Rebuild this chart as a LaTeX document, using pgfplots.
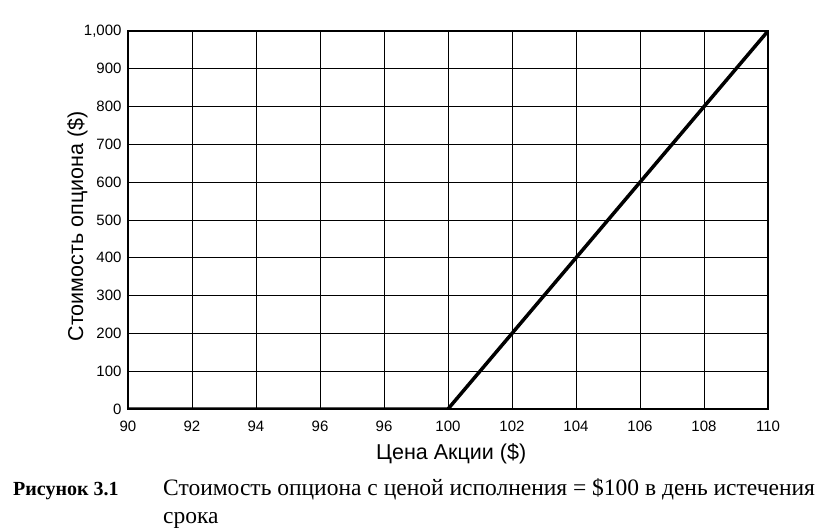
\documentclass[border=0pt]{standalone}
\usepackage{fontspec}
\setmainfont{Liberation Serif}
\newfontfamily\chartfont{Liberation Sans}
\usepackage{pgfplots}
\pgfplotsset{compat=1.18}

\begin{document}
\begin{tikzpicture}
\path[use as bounding box] (-128pt,-121pt) rectangle (698pt,409pt);
\begin{axis}[
    at={(0,0)}, anchor=south west,
    scale only axis,
    width=640pt, height=378pt,
    xmin=90, xmax=110, ymin=0, ymax=1000,
    xtick={90,92,...,110},
    xticklabels={90,92,94,96,96,100,102,104,106,108,110},
    ytick={0,100,...,1000},
    yticklabels={0,100,200,300,400,500,600,700,800,900,{1,000}},
    grid=major,
    major grid style={black, line width=0.8pt},
    axis line style={black, line width=1.6pt},
    tick style={draw=none},
    ticklabel style={font=\chartfont\fontsize{15}{17}\selectfont},
    xticklabel style={yshift=-8pt},
    yticklabel style={xshift=-3pt},
    xlabel={Цена Акции (\$)},
    ylabel={Стоимость опциона (\$)},
    label style={font=\chartfont\fontsize{21.5}{24}\selectfont},
    xlabel style={at={(axis description cs:0.505,-0.1349)}, anchor=base},
    ylabel style={at={(axis description cs:-0.0703,0.483)}, anchor=base},
]
\addplot[black, line width=3.5pt] coordinates {(90,0) (100,0) (110,1000)};
\end{axis}
\node[anchor=base west, inner sep=0pt, font=\bfseries\fontsize{20}{24}\selectfont] at (-115pt,-86pt) {Рисунок 3.1};
\node[anchor=base west, inner sep=0pt, font=\fontsize{23.5}{26}\selectfont] at (35pt,-86pt) {Стоимость опциона с ценой исполнения = \$100 в день истечения};
\node[anchor=base west, inner sep=0pt, font=\fontsize{23.5}{26}\selectfont] at (35pt,-114pt) {срока};
\end{tikzpicture}
\end{document}
